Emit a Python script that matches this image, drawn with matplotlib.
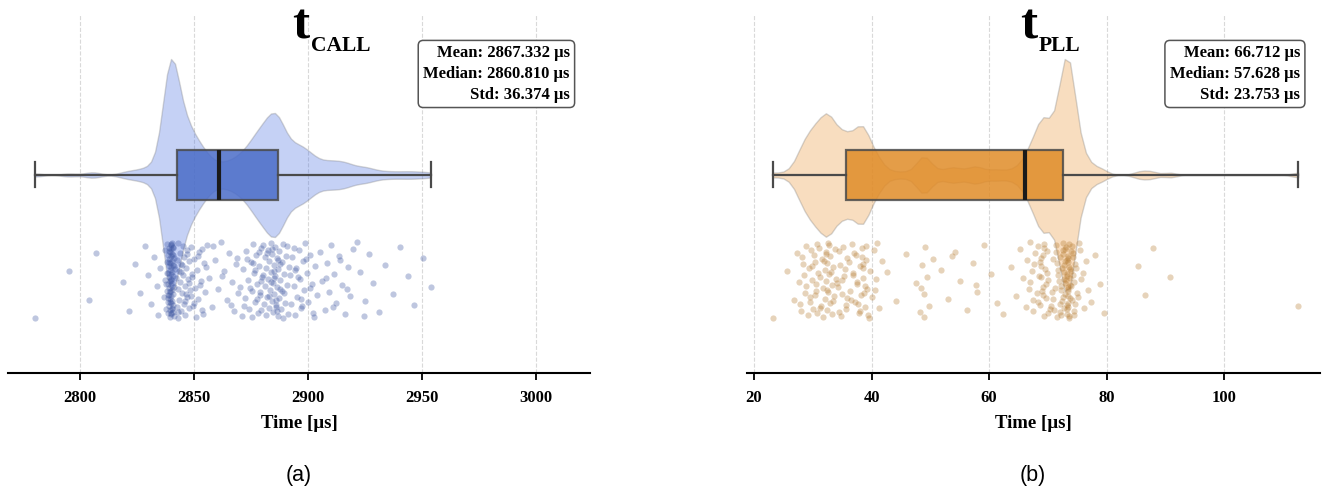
import numpy as np
import matplotlib.pyplot as plt

plt.rcParams.update({'font.family': 'Liberation Serif', 'font.weight': 'bold'})

# ---- data (values in microseconds) ----
call_times = [
    2780.3, 2795.2, 2804.1, 2806.9, 2818.7, 2821.6, 2824.3, 2826.2, 2828.4, 2829.7,
    2831.2, 2832.5, 2833.6, 2834.4, 2835.1,
    2836.8, 2837.2, 2837.5, 2837.8, 2838.0, 2838.1, 2838.3, 2838.4, 2838.5, 2838.6,
    2838.7, 2838.8, 2838.9, 2839.0, 2839.0, 2839.1, 2839.1, 2839.2, 2839.2, 2839.3,
    2839.3, 2839.4, 2839.4, 2839.5, 2839.5, 2839.6, 2839.6, 2839.7, 2839.7, 2839.8,
    2839.8, 2839.9, 2839.9, 2840.0, 2840.0, 2840.1, 2840.1, 2840.2, 2840.2, 2840.3,
    2840.3, 2840.4, 2840.4, 2840.5, 2840.5, 2840.6, 2840.6, 2840.7, 2840.8, 2840.9,
    2841.0, 2841.1, 2841.2, 2841.4, 2841.6, 2838.4, 2839.1, 2839.7, 2840.3, 2838.9,
    2839.5, 2840.1, 2838.2, 2839.3, 2840.6, 2837.9, 2839.9, 2841.3, 2838.6, 2840.7,
    2842.2, 2842.4, 2842.6, 2842.9, 2843.1, 2843.3, 2843.5, 2843.8, 2844.0, 2844.2,
    2844.5, 2844.7, 2845.0, 2845.2, 2845.5, 2845.7, 2846.0, 2846.2, 2846.5, 2846.8,
    2847.0, 2847.3, 2847.6, 2847.9, 2848.2, 2843.0, 2844.4, 2845.9, 2846.9, 2847.7,
    2842.8, 2844.9, 2846.3,
    2848.6, 2849.0, 2849.5, 2849.9, 2850.4, 2850.8, 2851.3, 2851.9, 2852.4, 2853.0,
    2853.6, 2854.3, 2855.0, 2855.8, 2849.3, 2850.1, 2851.6, 2852.8, 2854.0, 2855.4,
    2848.9, 2853.3,
    2856.7, 2857.9, 2859.2, 2860.6, 2861.8, 2863.1, 2864.5, 2865.4, 2866.8, 2867.6,
    2868.5, 2869.4, 2858.5, 2862.4, 2866.1, 2869.0,
    2870.2, 2870.9, 2871.5, 2872.3, 2872.9, 2873.6, 2874.2, 2874.8, 2875.3, 2875.9,
    2876.4, 2876.9, 2877.3, 2877.8, 2878.2, 2878.6, 2879.0, 2879.4, 2879.8, 2871.8,
    2873.1, 2874.5, 2875.6, 2876.7, 2877.5, 2878.4, 2879.2, 2879.6, 2876.1, 2878.9,
    2880.1, 2880.4, 2880.7, 2881.0, 2881.3, 2881.5, 2881.8, 2882.1, 2882.3, 2882.6,
    2882.9, 2883.1, 2883.4, 2883.6, 2883.9, 2884.1, 2884.3, 2884.6, 2884.8, 2885.0,
    2885.2, 2885.5, 2885.7, 2885.9, 2886.2, 2886.4, 2886.7, 2886.9, 2887.2, 2887.5,
    2887.8, 2888.1, 2888.4, 2888.7, 2889.0, 2889.4, 2889.8, 2890.2, 2890.6, 2891.1,
    2891.6, 2883.0, 2884.4, 2885.3, 2886.0, 2886.8, 2887.6, 2888.9, 2884.9, 2885.8,
    2881.9, 2883.7, 2886.5, 2887.9, 2889.6, 2890.9,
    2892.1, 2892.6, 2893.2, 2893.7, 2894.3, 2894.8, 2895.4, 2896.0, 2896.5, 2897.1,
    2897.7, 2898.3, 2898.9, 2899.5, 2900.2, 2900.9, 2901.6, 2902.4, 2903.2, 2904.1,
    2893.9, 2895.7, 2897.4, 2899.1, 2901.0, 2902.8, 2894.5, 2896.8,
    2905.2, 2906.1, 2907.3, 2908.2, 2909.4, 2910.3, 2911.6, 2912.5, 2913.8, 2914.9,
    2916.1, 2917.4, 2918.6, 2919.7, 2907.9, 2911.0, 2914.2, 2917.0,
    2921.3, 2923.0, 2925.2, 2926.8, 2928.5, 2931.1, 2934.0, 2937.2, 2940.5, 2943.8,
    2946.6, 2950.3, 2953.9, 2924.4,
]

pll_times = [
    23.2, 25.6, 26.8,
    27.3, 27.7, 28.0, 28.3, 28.6, 28.9, 28.5, 27.9, 28.2, 28.8,
    29.1, 29.3, 29.5, 29.7, 29.9, 30.1, 30.3, 30.5, 30.7, 30.9, 29.6, 30.2, 30.6, 30.8, 29.8, 30.4,
    31.0, 31.2, 31.4, 31.5, 31.7, 31.8, 32.0, 32.1, 32.2, 32.3, 32.4, 32.5, 32.6, 32.7, 32.8,
    32.9, 33.0, 33.2, 33.3, 33.5, 33.6, 33.8, 33.9, 31.3, 31.9, 32.4, 32.6, 33.1, 33.4, 32.2,
    34.2, 34.4, 34.6, 34.9, 35.1, 35.3, 35.6, 35.9, 34.3, 34.8, 35.4, 35.8, 34.5, 35.0, 35.7,
    36.1, 36.3, 36.6, 36.9, 37.1, 37.3, 37.6, 37.8, 38.0, 38.2, 38.4, 38.6, 38.8, 39.0, 39.2,
    39.5, 39.8, 36.5, 37.0, 37.5, 38.1, 38.5, 38.7, 39.1, 36.8, 37.7, 38.3, 38.9, 39.4, 38.6,
    40.1, 40.4, 40.8, 41.2, 41.7, 40.6, 41.0,
    42.6, 44.1, 45.9,
    47.6, 48.2, 48.6, 48.9, 49.1, 49.4, 49.8, 50.5, 48.4, 49.0,
    51.8, 53.0, 54.2, 55.1, 56.3, 57.2, 58.0, 59.1, 60.4, 61.3, 53.7, 57.8,
    62.4, 63.7, 64.6, 65.3, 65.8,
    66.2, 66.5, 66.8, 67.0, 67.3, 67.5, 67.8, 66.9, 67.4, 67.6,
    68.1, 68.3, 68.5, 68.7, 68.9, 69.1, 69.3, 69.5, 69.7, 69.9, 70.1, 70.3, 68.6, 69.0,
    69.4, 69.8, 68.4, 69.2, 69.6, 70.0, 68.8, 69.1, 69.3, 68.9,
    70.6, 70.9, 71.2, 71.5, 71.8, 70.8, 71.4, 71.9, 71.1, 71.6, 70.7, 71.3, 71.7,
    72.0, 72.1, 72.2, 72.3, 72.4, 72.5, 72.6, 72.7, 72.8, 72.9, 72.2, 72.5, 72.8, 72.4,
    72.6, 72.9, 72.1, 72.7,
    73.0, 73.1, 73.2, 73.3, 73.4, 73.5, 73.6, 73.7, 73.8, 73.9, 73.1, 73.3, 73.4, 73.5,
    73.6, 73.2, 73.4, 73.5, 73.7, 73.3, 73.6, 73.4, 73.0, 73.8, 73.5, 73.2, 73.4, 73.6,
    74.0, 74.1, 74.2, 74.4, 74.5, 74.7, 74.9, 74.1, 74.3, 74.6, 74.2, 74.0, 74.4, 74.8,
    75.1, 75.4, 75.7, 76.1, 76.5, 76.9, 75.3, 75.9,
    77.4, 78.1, 78.9, 79.6,
    85.3, 86.6, 87.9, 90.8, 112.6,
]

# box statistics as drawn in the figure: whisker low, Q1, median, Q3, whisker high
call_box = [2780.3, 2842.5, 2860.8, 2886.8, 2953.9]
pll_box = [23.3, 35.7, 66.1, 72.6, 112.6]

call_stats = ['Mean: 2867.332 µs', 'Median: 2860.810 µs', 'Std: 36.374 µs']
pll_stats = ['Mean: 66.712 µs', 'Median: 57.628 µs', 'Std: 23.753 µs']

call_ticks = [2800, 2850, 2900, 2950, 3000]
pll_ticks = [20, 40, 60, 80, 100]


def panel(ax, times, box, stats, ticks, xlim, sub, c_violin, c_box, c_pts, bw, title_x):
    # violin (full kde, centred on the box)
    vp = ax.violinplot([times], positions=[0], widths=2.32, orientation='horizontal',
                       showextrema=False, bw_method=bw)
    for b in vp['bodies']:
        b.set_facecolor(c_violin)
        b.set_alpha(0.3)
        b.set_edgecolor('#777777')
        b.set_linewidth(1.0)
        b.set_zorder(2)

    st = [dict(whislo=box[0], q1=box[1], med=box[2], q3=box[3], whishi=box[4], fliers=[])]
    ax.bxp(st, positions=[0], widths=0.5, orientation='horizontal', patch_artist=True,
           showfliers=False,
           boxprops=dict(facecolor=c_box, alpha=0.85, edgecolor='#4a4a4a', linewidth=1.6),
           medianprops=dict(color='#1a1a1a', linewidth=3),
           whiskerprops=dict(color='#4a4a4a', linewidth=1.6),
           capprops=dict(color='#4a4a4a', linewidth=1.6), zorder=3)

    # rain: deterministic jitter below the box
    n = len(times)
    jit = (np.arange(n) * 0.6180339887) % 1.0
    ax.scatter(times, -1.05 + (jit - 0.5) * 0.76, s=20, color=c_pts, alpha=0.33,
               linewidths=0, zorder=4)

    ax.set_xlim(*xlim)
    ax.set_ylim(-1.98, 1.60)
    ax.set_yticks([])
    ax.set_xticks(ticks)
    ax.grid(axis='x', linestyle='--', color='#d9d9d9', linewidth=0.8, zorder=0)
    ax.set_axisbelow(True)
    for s in ['top', 'left', 'right']:
        ax.spines[s].set_visible(False)
    ax.spines['bottom'].set_linewidth(1.5)
    ax.tick_params(axis='x', length=5, width=1.3, labelsize=12, pad=7)
    for lab in ax.get_xticklabels():
        lab.set_fontweight('bold')
    ax.set_xlabel('Time [µs]', fontsize=13.5, fontweight='bold', labelpad=7)

    ax.text(0.965, 0.915, '\n'.join(stats), transform=ax.transAxes, ha='right', va='top',
            fontsize=12, fontweight='bold', linespacing=1.38,
            bbox=dict(boxstyle='round,pad=0.3', facecolor='white', edgecolor='#555555',
                      linewidth=1.1))

    ax.text(title_x, 0.935, 't', transform=ax.transAxes, ha='left', va='baseline',
            fontsize=37, fontweight='bold')
    ax.text(title_x + 0.033, 0.90, sub, transform=ax.transAxes, ha='left', va='baseline',
            fontsize=15.5, fontweight='bold')


fig = plt.figure(figsize=(13.27, 4.91), dpi=100)
ax1 = fig.add_axes([0.006, 0.2403, 0.4386, 0.7292])
ax2 = fig.add_axes([0.5629, 0.2403, 0.4318, 0.7292])

panel(ax1, call_times, call_box, call_stats, call_ticks, (2768.4, 3023.7), 'CALL',
      '#4169e1', '#4a6cc8', '#3b54a0', 0.11, 0.488)
panel(ax2, pll_times, pll_box, pll_stats, pll_ticks, (18.8, 116.3), 'PLL',
      '#e8912e', '#e08c28', '#b57a30', 0.055, 0.476)

fig.text(299 / 1327, 1 - 475 / 491, '(a)', ha='center', va='center', fontsize=15.5,
         family='Liberation Sans', fontweight='normal')
fig.text(1033 / 1327, 1 - 475 / 491, '(b)', ha='center', va='center', fontsize=15.5,
         family='Liberation Sans', fontweight='normal')

fig.savefig('out.png', dpi=100)
